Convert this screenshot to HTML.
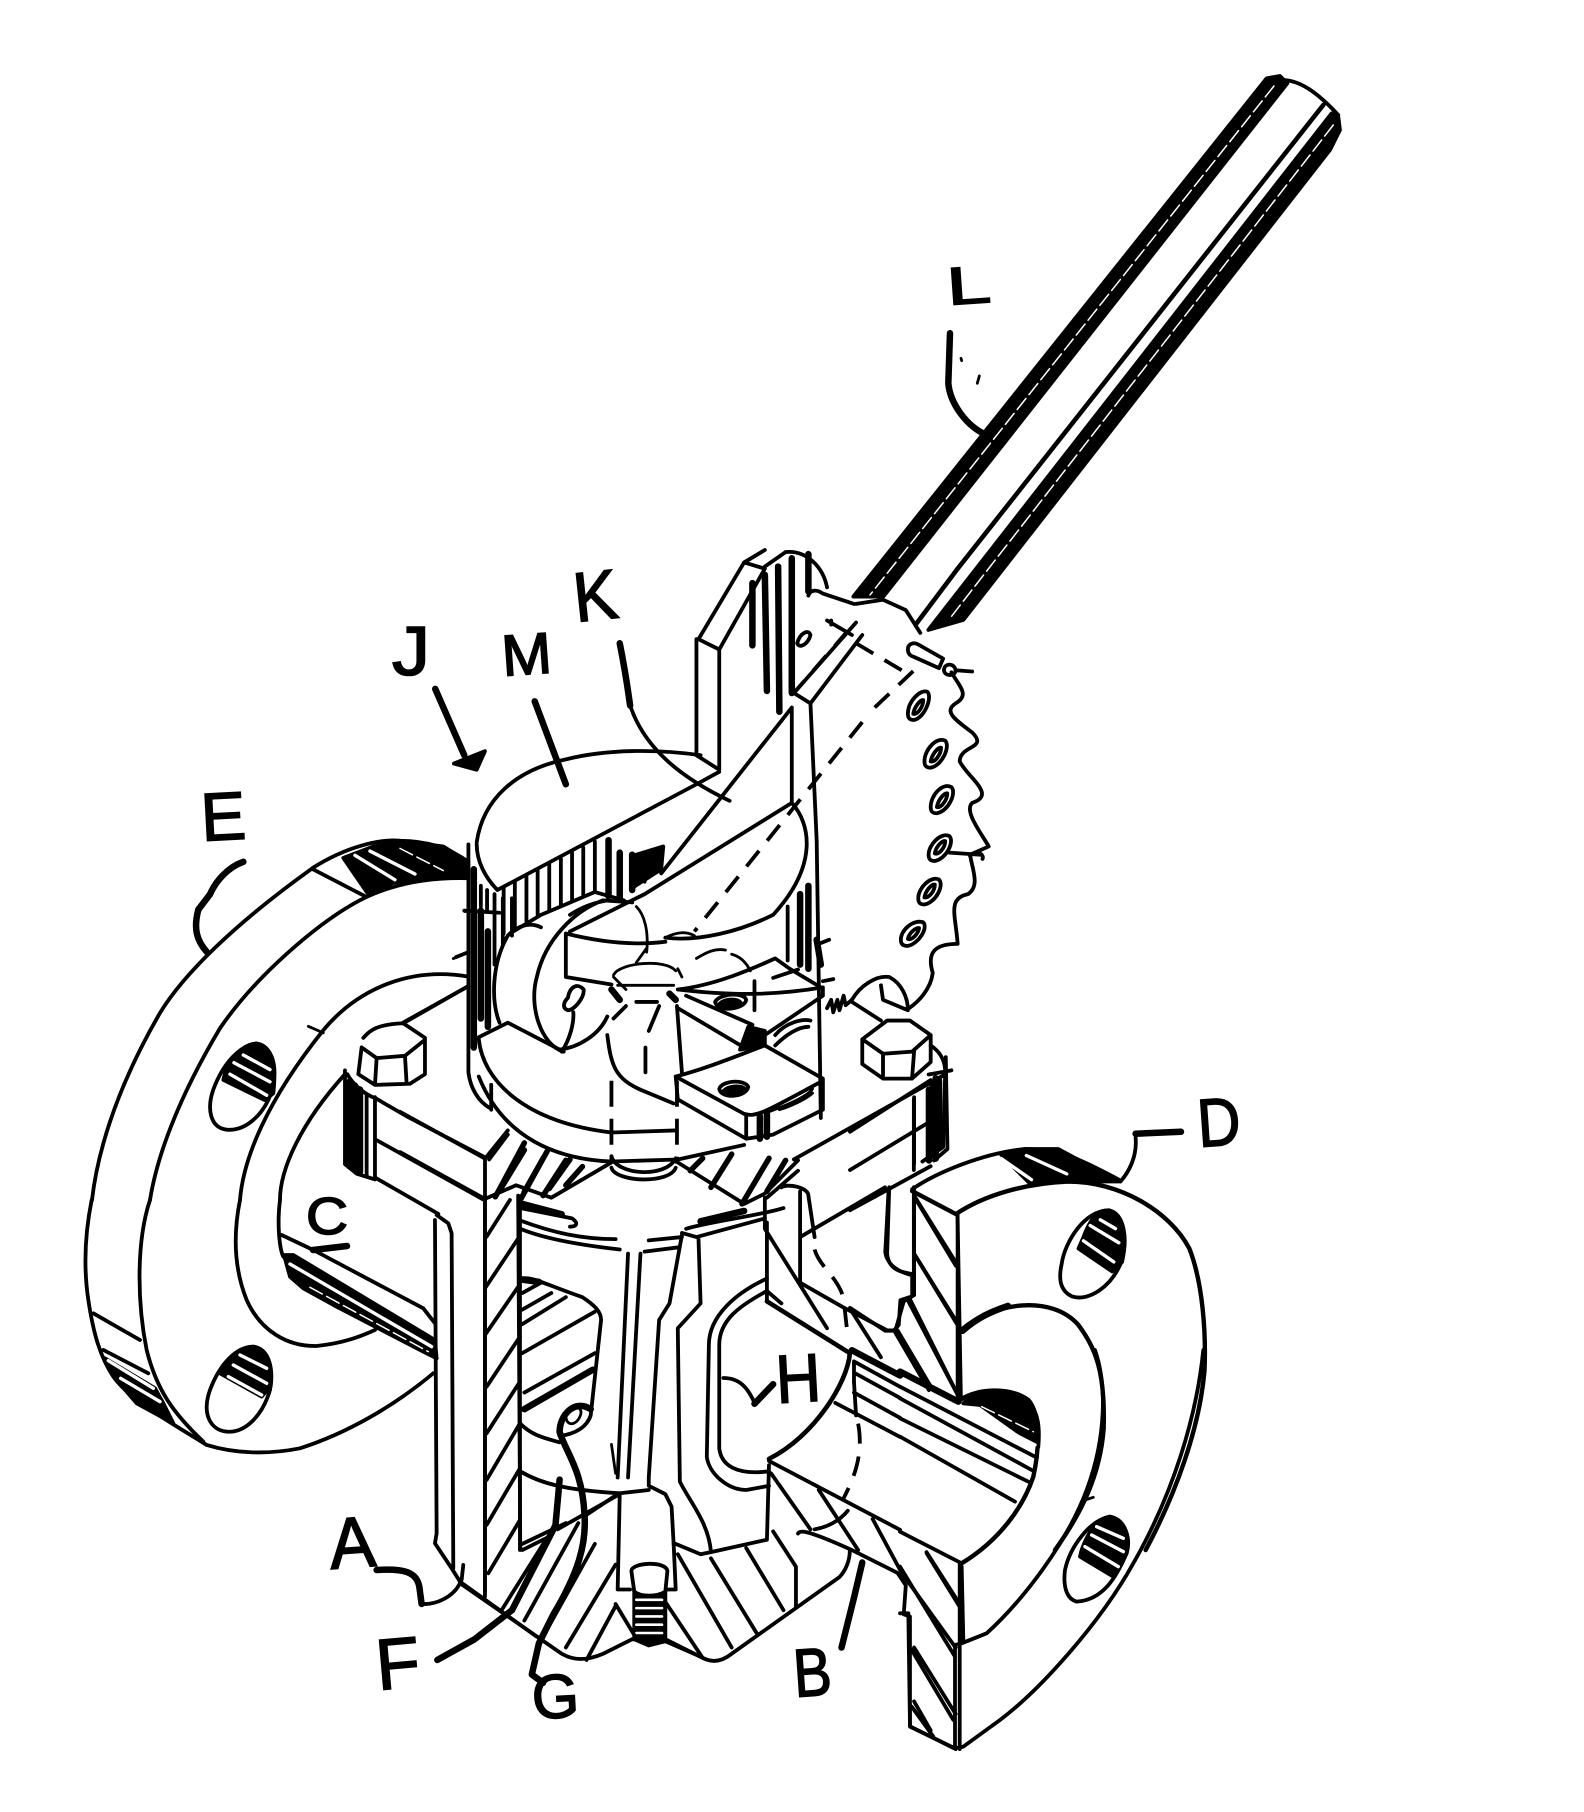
<!DOCTYPE html>
<html><head><meta charset="utf-8"><title>Valve patent figure</title>
<style>
html,body{margin:0;padding:0;background:#fff}
svg{display:block}
path{fill:none;stroke:#000;stroke-width:3.8;vector-effect:non-scaling-stroke;stroke-linecap:round;stroke-linejoin:round}
path.k{fill:#000}
path.w{stroke:#fff;stroke-width:3.4}
path.n{stroke:#fff;stroke-width:1.5;stroke-dasharray:14 5}
path.t{stroke-width:6.5}
path.h{stroke-width:5.5}
path.s{stroke-width:2.8}
path.d{stroke-dasharray:20 13;stroke-linecap:butt}
path.v{stroke-dasharray:26 12;stroke-linecap:butt}
text{font-family:"Liberation Sans",sans-serif;fill:#000;stroke:#000;stroke-width:1.6}
</style></head><body>
<svg xmlns="http://www.w3.org/2000/svg" width="1584" height="1812" viewBox="0 0 1584 1812">
<rect width="1584" height="1812" fill="#fff"/>

<!-- lever -->
<g transform="translate(850 50) scale(.3333)">
<path class="k" d="M1250 85 L1290 78 L1312 100 L100 1640 L10 1640Z"/>
<path class="n" d="M1272 108 L60 1635"/>
<path d="M1300 90 C1350 92 1400 125 1465 195"/>
<path style="stroke-width:4.6" d="M1420 165 L320 1560 L200 1720"/>
<path class="k" d="M1445 190 L1465 200 L1470 240 L1440 300 L340 1710 L235 1740 Z"/>
<path class="n" d="M1450 225 L300 1705"/>
<path class="t" d="M300 850 L295 1000 C300 1060 350 1130 410 1155"/>
<path class="s" d="M333 925 L335 932 M388 978 L382 1000"/>
</g>

<!-- left flange upper -->
<g transform="translate(60 680) scale(.3333 .3827)">
<path d="M96 1359 C110 1250 160 1080 300 870 C370 770 520 640 760 490 C860 435 960 415 1020 420 C1100 420 1170 440 1225 475"/>
<path d="M270 1359 C290 1250 350 1100 480 910 C590 770 770 640 880 585 C980 535 1100 515 1225 518"/>
<path d="M540 1359 C550 1250 620 1100 790 915 C900 800 1060 750 1225 775"/>
<path d="M1225 800 L1030 895"/>
<path d="M660 1359 C660 1280 720 1160 855 1030"/>
<path class="s" d="M745 905 L790 922 M1180 728 L1225 712 M1215 605 L1240 602"/>
<path d="M760 495 L915 565"/>
<path class="k" d="M850 465 L940 435 L1020 420 L1150 435 L1225 475 L1225 515 L1100 515 L1000 530 L925 560Z"/>
<path class="w" d="M885 458 L1005 522 M930 447 L1065 507"/>
<path class="n" d="M1020 440 L1150 498"/>
<path class="k" d="M500 1010 C530 970 560 950 590 950 C635 955 650 1005 640 1080 L615 1098 L490 1045Z"/>
<path d="M460 1070 C490 1000 540 955 590 950 C640 960 650 1010 640 1060 C620 1130 560 1180 500 1175 C450 1170 440 1120 460 1070Z"/>
<path class="w" d="M550 980 L630 1018 M522 1000 L630 1050 M510 1030 L620 1085"/>
<!-- left bolt -->
<path d="M910 935 C930 915 950 900 1030 897 L1095 935 L1095 1030 L1050 1055 L945 1058 L895 1030 L905 960 L950 988 L1035 982 L1095 940 M950 988 L945 1058 M1035 982 L1040 1055"/>
<path d="M1030 897 L1225 800"/>
<!-- flange edges -->
<path d="M862 1030 C880 1060 920 1085 945 1092 L1040 1140 L1270 1245 M945 1200 L1275 1360 M945 1300 L1135 1395 M855 1020 L855 1265 L890 1290 L945 1305 M945 1090 L945 1305"/>
<path class="t" d="M868 1050 L868 1270 M885 1060 L885 1280 M900 1070 L900 1285"/>
<path d="M920 1085 L920 1295"/>
</g>

<!-- left flange lower -->
<g transform="translate(60 1200) scale(.3333)">
<path d="M95 0 C75 100 70 200 85 300 C100 400 120 470 160 530 C210 600 320 660 440 735 C520 760 620 765 720 745 C860 700 1000 620 1120 520"/>
<path d="M270 0 C230 120 230 300 260 450 C290 570 340 640 430 725"/>
<path d="M540 0 C520 100 520 200 560 300 C600 390 680 440 770 438 C850 430 900 410 945 390"/>
<path d="M660 0 C650 80 660 150 670 170"/>
<path d="M665 105 L760 150 L1090 325 L1125 370"/>
<path class="k" d="M672 165 L700 165 L1125 420 L1130 475 L1090 455 L830 320 L730 265 L690 230Z"/>
<path class="w" d="M690 192 L1115 440"/>
<path class="n" d="M750 262 L1105 455"/>
<path d="M100 340 L240 420 M130 450 L265 520"/>
<path class="k" d="M135 475 L285 565 L310 610 L340 670 L230 610 L170 540Z"/>
<path class="w" d="M145 482 L280 565 M182 535 L300 605"/>
<path class="k" d="M490 495 C530 450 560 440 580 440 C625 445 640 500 632 560 L605 590 L480 520Z"/>
<path d="M450 570 C480 490 530 440 580 440 C630 450 640 510 630 570 C610 640 560 700 500 695 C450 690 425 640 450 570Z"/>
<path class="w" d="M540 465 L620 505 M520 495 L620 550 M505 530 L605 585"/>
<!-- column -->
<path d="M1125 60 L1130 1000 L1125 1030 L1175 1105 L1200 1145 L1430 1310 M1130 45 L1165 70 L1175 100 L1180 1105 M1275 0 L1275 1190 M1380 0 L1380 1050"/>
<path class="t" d="M950 1110 C1030 1105 1070 1115 1078 1160 L1085 1212"/>
<path d="M1085 1212 C1130 1215 1180 1190 1200 1150 M1210 1095 L1205 1140"/>
<path d="M1280 110 L1350 0 M1275 265 L1375 115 M1275 405 L1375 260 M1280 560 L1380 410 M1280 700 L1380 545 M1280 840 L1380 670 M1280 975 L1380 805 M1285 1120 L1380 960"/>
</g>

<!-- cylinder / upper mechanism -->
<g transform="translate(400 550) scale(.4146)">
<!-- cover -->
<path d="M185 705 C200 600 280 530 400 505 C500 480 620 480 725 495 M185 710 C185 750 205 790 235 820 L715 565 L770 535"/>
<path d="M715 215 L715 495 L770 530 L770 240 L720 215 L830 30 L880 45 L770 240 M830 30 L880 0 M880 40 L930 5 C980 0 1020 40 1030 90"/>
<path class="t" d="M850 80 L850 230 M880 60 L885 340 M912 40 L915 390 M945 20 L945 345 M985 10 L985 100"/>
<path d="M958 225 C965 200 985 190 990 205 C985 225 965 240 958 225Z"/>
<path d="M985 110 C990 95 1005 95 1020 105 L1095 130 M1100 130 L1165 120 L1220 145 L1255 200 M1030 170 L1090 205 M1100 175 L950 345 L990 370 L1115 205 M1040 170 L1040 180"/>
<path d="M945 380 L630 780 M945 380 L945 610 M990 370 L1005 700 L1015 1370"/>
<path d="M410 920 L590 830 L945 610 C990 660 1010 760 900 880 C820 920 720 945 640 935"/>
<!-- hatch beneath cover -->
<path d="M250 815 L250 925 M277 800 L277 910 M305 788 L305 895 M332 772 L332 880 M360 758 L360 870 M388 745 L388 855 M415 730 L415 845 M442 718 L442 835 M470 703 L470 825"/>
<path class="t" d="M503 700 L503 835 M530 730 L530 840 M560 735 L560 820"/>
<path class="k" d="M570 735 L635 715 L630 770 L560 815Z"/>
<path d="M595 745 L590 800 M265 925 L340 880 L470 825 L540 845"/>
<!-- left wall -->
<path d="M165 710 L165 1260 C170 1300 190 1330 215 1345 M220 1290 L220 1350"/>
<path class="t" d="M178 770 L178 1200 M195 870 L195 1130 M212 920 L212 1150"/>
<path d="M228 830 L228 1000 M248 840 L248 950 M270 840 L270 930 M195 810 L195 860 M210 820 L210 870 M155 870 L240 875 M135 982 L165 970"/>
<!-- cam -->
<path d="M240 1140 C220 1090 220 1000 260 930 C280 910 310 895 340 910"/>
<path d="M395 1210 C340 1195 310 1100 330 1030 C350 940 420 870 490 845 L560 850 M410 880 C440 860 470 850 500 845"/>
<path d="M400 925 L400 1030 L510 1048 M400 925 C480 945 560 955 640 945"/>
<path d="M405 1080 C410 1050 430 1045 443 1060 C445 1080 420 1110 405 1110 C390 1105 395 1090 405 1080Z M418 1115 C420 1140 410 1180 390 1210"/>
<path d="M190 1175 L260 1140 L385 1205 C430 1200 480 1170 500 1125"/>
<path d="M190 1180 C200 1280 300 1380 510 1405 L665 1400 M190 1270 C250 1420 380 1470 510 1475 L670 1470 L830 1435"/>
<path class="s" d="M570 860 C590 880 600 920 595 970 M595 960 L570 995 M640 935 C670 920 690 920 710 930 M715 985 C740 970 760 960 785 965 M800 975 C820 980 835 995 845 1015"/>
<!-- stem -->
<path class="s" d="M515 1025 C530 995 640 985 665 1015 M515 1030 L545 1060 M670 1010 L680 1030 M525 1050 L660 1050"/>
<path class="t" d="M510 1060 L530 1085 M650 1070 L665 1085"/>
<path d="M570 1090 L620 1090 M625 1100 L600 1160 M545 1100 L515 1130 M500 1170 C510 1250 520 1280 600 1310 L660 1335 M592 1200 L592 1260 M668 1100 L680 1260"/>
<path class="v" d="M510 1280 L510 1480 M668 1280 L668 1480"/>
<path d="M510 1490 C520 1525 650 1530 665 1490"/>
<!-- pawl plates -->
<path d="M670 1060 C800 1075 900 1075 1020 1055 L1020 1075 L880 1170 M670 1105 L830 1200 M690 1075 L850 1145 M670 1060 C760 1050 850 1010 905 985 L940 1010 L1015 1055 M855 1040 L855 1110 M900 1032 L960 1012"/>
<path d="M760 1090 C770 1070 830 1065 835 1085 C830 1110 765 1115 760 1090Z"/>
<path class="k" d="M770 1095 C785 1080 815 1082 822 1092 C810 1105 785 1108 770 1095Z"/>
<path class="k" d="M840 1150 L880 1160 L880 1195 L820 1205Z"/>
<path d="M905 1170 C930 1140 970 1130 990 1135 M905 1195 C930 1170 960 1150 985 1150"/>
<path d="M665 1270 C740 1250 800 1225 880 1195 L1020 1275 L1020 1350 L900 1410 L835 1420 L670 1325 L665 1270 M665 1270 L830 1360 C860 1370 890 1350 1020 1280 M835 1365 L835 1420"/>
<path class="t" d="M868 1365 L868 1420 M885 1360 L885 1415"/>
<path d="M770 1300 C775 1280 830 1275 840 1295 C835 1320 775 1325 770 1300Z"/>
<path class="k" d="M780 1305 C795 1290 825 1292 832 1300 C820 1315 795 1318 780 1305Z"/>
<path class="s" d="M890 1355 C930 1340 980 1320 995 1300 M915 1350 C950 1340 985 1320 995 1310"/>
<!-- right wall hatch -->
<path d="M935 860 L935 990 M1010 950 L1035 940 M1020 1040 L1045 1035"/>
<path class="t" d="M965 830 L965 1000 M985 810 L985 1010 M1005 940 L1015 1000"/>
<!-- spring + gear tail -->
<path d="M1030 1105 L1040 1085 L1045 1115 L1055 1085 L1060 1110 L1070 1075 L1075 1098 L1090 1085"/>
<path d="M1090 1085 C1110 1050 1150 1025 1180 1030 C1210 1045 1225 1080 1225 1110 L1165 1085 L1160 1050 M1090 1090 L1160 1135"/>
<path d="M1228 1105 C1250 1090 1280 1060 1285 1020 C1270 970 1290 950 1345 950 C1340 880 1320 840 1370 830 C1400 810 1380 770 1375 735 L1420 715 C1400 680 1360 630 1380 610 C1440 590 1370 550 1350 510 C1350 470 1420 480 1380 440 C1340 410 1310 390 1340 370 C1375 350 1350 330 1330 295"/>
<path d="M1375 738 C1390 720 1410 735 1405 745"/>
<path d="M1225 240 C1225 225 1240 222 1250 228 L1310 262 L1300 285 L1240 258 C1230 255 1225 250 1225 240Z"/>
<path d="M1312 290 C1312 272 1338 272 1340 290 C1340 305 1314 306 1312 290Z M1340 290 L1380 293"/>
<!-- gear holes -->
<path d="M1225 395 C1225 365 1255 335 1272 342 C1285 355 1265 405 1240 410 C1228 410 1225 405 1225 395Z M1238 395 C1240 380 1255 360 1262 362 C1262 378 1248 398 1238 395Z"/>
<path d="M1265 510 C1265 480 1295 450 1315 460 C1328 473 1308 520 1280 525 C1268 525 1265 520 1265 510Z M1280 510 C1282 495 1297 475 1305 477 C1305 493 1290 513 1280 510Z"/>
<path d="M1280 620 C1280 590 1310 560 1330 572 C1343 585 1323 630 1295 635 C1283 635 1280 630 1280 620Z M1295 620 C1297 605 1312 585 1320 587 C1320 603 1305 623 1295 620Z"/>
<path d="M1275 735 C1275 710 1305 680 1325 690 C1338 703 1318 745 1290 750 C1278 750 1275 745 1275 735Z M1290 732 C1292 717 1307 700 1315 702 C1315 718 1300 735 1290 732Z M1325 730 L1400 735"/>
<path d="M1250 840 C1250 815 1280 785 1300 795 C1313 808 1293 850 1265 855 C1253 855 1250 850 1250 840Z M1265 838 C1267 823 1282 805 1290 807 C1290 823 1275 840 1265 838Z"/>
<path d="M1208 940 C1208 915 1240 890 1262 898 C1275 912 1250 950 1225 955 C1213 955 1208 950 1208 940Z M1225 938 C1228 923 1245 910 1252 912 C1250 925 1235 942 1225 938Z"/>
<!-- dashes of shaft -->
<path class="d" d="M1145 380 L1240 290 M1115 415 L710 920"/>
<path class="d" d="M1100 225 L1210 290 M1080 195 L950 345"/>
<!-- right bolt -->
<path d="M1115 1180 L1175 1135 L1230 1135 L1280 1170 L1280 1235 L1235 1275 L1165 1275 L1115 1240Z M1115 1180 L1165 1215 L1235 1210 L1280 1170 M1165 1215 L1165 1275 M1240 1210 L1235 1275"/>
<path d="M1280 1195 C1310 1215 1315 1240 1315 1260 L1310 1440 L1260 1475 M1315 1265 L950 1470 M1275 1265 L1330 1255"/>
<path d="M1240 1320 L1240 1480"/>
<path class="t" d="M1285 1290 L1285 1460 M1300 1280 L1300 1440"/>
<!-- left hatch top section -->
<path d="M0 1355 L205 1468 L205 1568 M260 1400 L205 1468"/>
<path class="h" d="M230 1560 L300 1430 M290 1568 L355 1450 M360 1540 L410 1470"/>
<path d="M215 1470 L260 1410"/>
<!-- J/M/K leaders -->
<path class="t" d="M85 335 L155 495"/>
<path class="k" d="M130 515 L205 485 L185 530Z"/>
<path class="t" d="M325 365 L400 565"/>
<path class="t" d="M530 225 C545 300 550 340 555 375"/>
<path d="M555 375 C590 480 680 550 795 605"/>
</g>

<!-- lower centre -->
<g transform="translate(400 1150) scale(.4146)">
<path d="M145 1045 L390 1215 C420 1232 450 1232 490 1215 L560 1180 L640 1185 L725 1222 C750 1238 775 1235 800 1215 L1060 1030 C1075 1015 1085 990 1085 965"/>
<path d="M0 5 L205 118 L205 1065 M205 118 L280 85 L365 115 L510 30 M670 30 L830 130 L880 105 L960 25"/>
<path d="M510 15 C520 60 640 70 665 20"/>
<path class="h" d="M245 90 L300 0 M300 100 L345 20 M345 110 L400 25 M400 85 L440 40 M700 50 L730 20 M750 90 L800 10 M825 130 L890 20 M885 100 L930 25"/>
<!-- inner left wall -->
<path d="M285 110 L290 960 L295 965 L355 935 M290 140 L415 165 C430 175 428 185 410 185 M290 170 C370 200 440 215 520 215 M290 190 C350 215 440 230 530 240"/>
<path class="t" d="M295 130 L390 155"/>
<path d="M590 245 L670 235 M600 218 L680 210"/>
<!-- centre taper -->
<path d="M550 250 L525 790 M580 250 L550 790 M680 205 L650 370 L625 410 L600 790 L600 810 L640 830 L655 860 L660 950 M720 215 L725 370 L670 430 L675 800 C700 850 745 900 750 970"/>
<path d="M680 200 L715 210 L880 165 M690 190 C760 170 860 160 925 140"/>
<path class="t" d="M725 172 L830 147"/>
<path d="M290 775 C340 805 400 820 530 828 L600 820 M290 660 C320 690 350 695 385 705"/>
<path class="s" d="M510 710 L520 780"/>
<!-- bolt box -->
<path d="M530 830 L525 1060 L555 1060 M640 1060 L665 1060 L660 950 M530 830 L380 915 M295 950 L400 900"/>
<path class="k" d="M565 1060 L640 1060 L640 1185 L600 1195 L565 1180Z"/>
<path d="M558 1015 C560 995 640 990 645 1015 L640 1065 C620 1078 580 1078 565 1065Z" style="fill:#fff"/>
<path class="w" style="stroke-width:2.6" d="M570 1085 L632 1085 M570 1105 L632 1105 M570 1125 L632 1125 M570 1145 L632 1145 M570 1165 L632 1165"/>
<path d="M640 1180 L730 1225 M640 1090 L730 1225 M565 1170 L520 1095"/>
<!-- fan hatching -->
<path d="M245 1110 L355 935 M300 1135 L430 900 M400 1200 L520 1000 M450 1230 L520 1100 M350 1165 L470 950 M670 975 L800 1200 M750 985 L860 1165 M835 960 L925 1110 M900 920 L955 1005 L955 1100 M665 950 L725 975 L750 970 L885 940 L890 760 M525 830 L450 880"/>
<!-- back pipe section -->
<path d="M290 310 C320 305 340 320 440 355 C470 375 485 390 485 410 L460 640 C450 670 420 685 385 690"/>
<path d="M295 345 L340 320 M295 385 L365 345 M295 420 L400 355 M295 490 L470 390 M300 585 L470 490"/>
<path class="t" d="M300 625 L465 530"/>
<path class="t" d="M290 312 L335 318"/>
<path class="s" d="M400 640 C420 610 450 620 430 650 C420 665 400 665 400 640"/>
<!-- port -->
<path d="M885 310 C810 345 745 400 745 470 L740 740 C745 780 790 820 835 820 L890 810 M885 340 C820 375 770 410 770 470 L770 720 C775 760 810 785 890 775"/>
<path d="M885 365 L1085 490 C1080 560 1000 690 890 745" style="stroke-width:4.6"/>
<path d="M885 175 L885 365 M880 115 L880 190 L1030 430 M885 340 L920 370"/>
<path d="M965 320 L1070 380 L1175 435 L1195 435 L1215 365 L1240 350 M1090 390 L1160 500 M1200 435 L1280 570 M1230 360 L1340 580 M1240 250 L1340 410 M1240 110 L1340 270 M1240 90 L1240 350 M1345 155 L1345 600"/>
<path d="M965 210 L1170 90 M965 100 L965 320 M885 115 L960 50 M920 90 C935 80 985 90 985 110 L1000 210 M1180 90 L1175 250 C1178 290 1210 295 1240 300"/>
<path class="d" d="M1000 240 C1010 280 1060 310 1070 360 L1080 450"/>
<path d="M1095 560 L1100 640"/>
<path class="d" d="M1105 660 C1120 740 1090 800 1070 840"/>
<!-- pipe lines -->
<path class="t" d="M1090 483 L1206 544"/>
<path d="M1095 510 L1206 571 M1095 537 L1206 598 M1095 585 L1206 646 M1050 610 L1206 692 M1095 510 L1095 560"/>
<path d="M890 750 L1206 916"/>
<path d="M895 780 L990 915 M1010 820 L1105 965 M1140 890 L1210 1020 L1340 1200 M1270 970 L1350 1095 M1000 915 C1030 910 1060 895 1080 870"/>
<path d="M960 925 C965 915 990 920 1090 965 L1200 1020 L1220 1050 L1215 1120 L1230 1125 L1230 1390 L1340 1445"/>
<path d="M1350 1000 L1350 1445 M1240 1200 L1340 1360 M1240 1330 L1280 1400"/>
<!-- leaders -->
<path class="t" d="M1115 995 L1095 1080 L1065 1200"/>
<path d="M780 550 C820 550 840 575 855 610"/>
<path class="t" d="M855 612 L900 565"/>
<path class="t" d="M385 795 L375 905 L270 1110 L180 1180 L90 1230"/>
<path class="t" d="M460 625 C420 600 385 640 385 680 C400 730 440 770 445 880 C450 950 430 1020 370 1120 L335 1190 L318 1265 L345 1285"/>
</g>

<!-- right flange upper -->
<g transform="translate(850 950) scale(.336 .3827)">
<path d="M0 475 L240 340 M0 575 L235 450 M0 680 L115 625 L240 565 M190 390 L190 575"/>
<path class="t" d="M235 365 L235 550 M255 335 L255 545"/>
<path d="M285 280 L290 520 L250 550"/>
<path d="M185 625 C260 580 400 530 520 520 C620 520 670 540 800 600"/>
<path class="k" d="M450 535 L520 520 L620 520 L800 605 L650 605 L535 610Z"/>
<path class="w" d="M450 545 L540 600 M525 537 L645 585"/>
<path d="M185 630 L315 690 C400 640 520 610 650 605 C800 605 950 680 1010 780 C1050 870 1060 1000 1055 1100 C1040 1250 970 1420 880 1568" style="stroke-width:4.4"/>
<path d="M320 690 L330 1170 M190 620 L190 890"/>
<path d="M335 990 C430 920 600 900 680 980 C730 1040 760 1100 755 1250 C745 1370 690 1470 610 1568" style="stroke-width:4.4"/>
<path class="t" d="M335 995 C380 960 420 945 470 930"/>
<path class="k" d="M695 750 C720 690 745 680 770 680 C815 688 825 750 810 815 L780 840 L680 780Z"/>
<path d="M630 820 C640 760 700 680 770 680 C820 690 825 760 810 810 C780 880 710 920 660 905 C625 890 620 860 630 820Z"/>
<path class="w" d="M745 705 L790 728 M715 720 L800 765 M695 760 L785 815"/>
<path d="M195 650 L315 825 M195 800 L320 980 M175 920 L325 1170 M135 1000 L235 1150"/>
<path d="M115 625 L105 790 C110 820 140 840 185 850 L185 905 L150 915 L145 980 L130 995 L105 995 L0 935"/>
<path class="t" d="M850 480 L985 475"/>
<path d="M850 490 C855 540 830 580 805 605"/>
</g>

<!-- right flange lower -->
<g transform="translate(900 1350) scale(.3333)">
<path class="k" d="M190 160 C240 115 330 110 385 150 C415 190 420 230 415 290 L240 165Z"/>
<path d="M180 150 C230 115 330 110 385 150 C420 190 420 290 400 380 C370 470 300 570 185 640" style="stroke-width:4.4"/>
<path class="w" d="M190 175 L405 285"/>
<path class="n" d="M245 170 L400 245"/>
<path class="t" d="M0 65 L175 155"/>
<path d="M0 110 L405 320 M0 145 L395 360 M0 205 L385 395 M0 260 L345 455 M0 545 L185 640"/>
<path d="M585 0 C620 100 620 260 560 420 C500 580 370 750 260 850 L185 880 L165 885 L165 1190"/>
<path d="M910 0 C890 200 820 430 700 640 C600 820 420 1020 300 1110 L190 1190 L165 1195 L30 1130 L25 790 L0 790"/>
<path d="M80 610 L185 780 M0 650 L165 920 M35 900 L160 1110 M35 1070 L100 1160 M185 650 L190 870"/>
<path class="k" d="M545 600 C570 530 600 505 630 500 C680 510 692 570 680 610 L640 680 L540 620Z"/>
<path d="M495 660 C510 590 570 510 630 500 C680 510 690 570 680 610 C650 680 610 750 530 755 C495 745 490 700 495 660Z"/>
<path class="w" d="M590 530 L670 565 M575 555 L670 605 M555 590 L655 650"/>
<path class="s" d="M555 450 L580 442"/>
</g>

<!-- E leader -->
<g transform="translate(60 680) scale(.3333 .3827)">
<path class="t" d="M550 475 C500 490 465 530 450 560 L415 600 C400 650 410 680 440 710"/>
</g>

<!-- labels -->
<text x="948" y="305" font-size="53" textLength="44" lengthAdjust="spacingAndGlyphs" transform="rotate(-4 948 305)">L</text>
<text x="576" y="622" font-size="70" textLength="44" lengthAdjust="spacingAndGlyphs" transform="rotate(-6 576 622)">K</text>
<text x="503" y="676" font-size="58" textLength="50" lengthAdjust="spacingAndGlyphs" transform="rotate(-4 503 676)">M</text>
<text x="392" y="675" font-size="70" textLength="38" lengthAdjust="spacingAndGlyphs">J</text>
<text x="202" y="841" font-size="68" textLength="45" lengthAdjust="spacingAndGlyphs" transform="rotate(-3 202 841)">E</text>
<text x="306" y="1234" font-size="52" textLength="42" lengthAdjust="spacingAndGlyphs">C</text>
<text x="1199" y="1147" font-size="68" textLength="43" lengthAdjust="spacingAndGlyphs" transform="rotate(-4 1199 1147)">D</text>
<text x="777" y="1403" font-size="68" textLength="45" lengthAdjust="spacingAndGlyphs" transform="rotate(-3 777 1403)">H</text>
<text x="331" y="1569" font-size="72" textLength="46" lengthAdjust="spacingAndGlyphs" transform="rotate(-4 331 1569)">A</text>
<text x="378" y="1690" font-size="72" textLength="44" lengthAdjust="spacingAndGlyphs" transform="rotate(-5 378 1690)">F</text>
<text x="533" y="1719" font-size="62" textLength="47" lengthAdjust="spacingAndGlyphs" transform="rotate(-3 533 1719)">G</text>
<text x="795" y="1697" font-size="68" textLength="38" lengthAdjust="spacingAndGlyphs" transform="rotate(-4 795 1697)">B</text>
<path class="t" d="M313 1250 L347 1246"/>
</svg>
</body></html>
